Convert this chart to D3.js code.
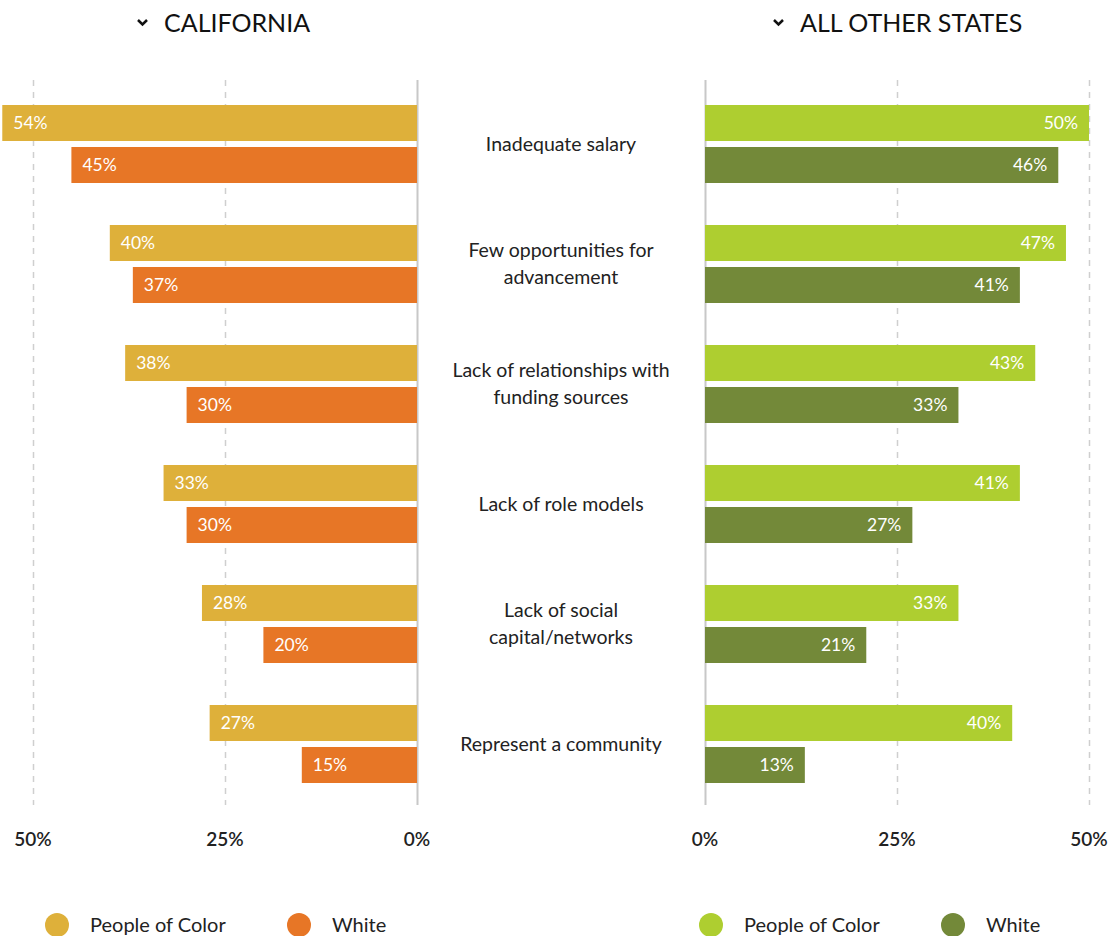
<!DOCTYPE html>
<html>
<head>
<meta charset="utf-8">
<script src="https://d3js.org/d3.v7.min.js"></script>
<style>
  body { margin: 0; background: #fff; }
  svg { display: block; font-family: Lato, "Open Sans", sans-serif; }
  .title { font-size: 25px; fill: #111; }
  .cat { font-size: 19.5px; fill: #222; }
  .val { font-size: 17.5px; fill: #fff; }
  .tick { font-size: 19px; font-weight: 600; fill: #222; }
  .legend text { font-size: 20px; fill: #222; }
</style>
</head>
<body>
<svg id="chart"></svg>
<script>
var categories = [
  ["Inadequate salary"],
  ["Few opportunities for", "advancement"],
  ["Lack of relationships with", "funding sources"],
  ["Lack of role models"],
  ["Lack of social", "capital/networks"],
  ["Represent a community"]
];
var caPeople = [54, 40, 38, 33, 28, 27];
var caWhite = [45, 37, 30, 30, 20, 15];
var otherPeople = [50, 47, 43, 41, 33, 40];
var otherWhite = [46, 41, 33, 27, 21, 13];
var tickValues = [0, 25, 50];

var screen = {width:1113, height:936}

var svg = d3.select("#chart")
  .attr("width", screen.width)
  .attr("height", screen.height)

var catKeys = categories.map(function(c) { return c.join(" "); })

var yScale = d3.scaleBand()
  .domain(catKeys)
  .range([105, 825])
  .paddingInner(0)

var subScale = d3.scaleBand()
  .domain(["people", "white"])
  .range([0, 78])
  .paddingInner(1/7)

var xLeft = d3.scaleLinear().domain([0, 50]).range([417, 33])
var xRight = d3.scaleLinear().domain([0, 50]).range([705, 1089])

var drawPanel = function(opts)
{
  var x = opts.scale
  var g = svg.append("g")

  // grid lines
  g.selectAll("line.grid")
    .data(tickValues)
    .enter()
    .append("line")
    .attr("x1", function(d) { return Math.round(x(d)) + 0.5; })
    .attr("x2", function(d) { return Math.round(x(d)) + 0.5; })
    .attr("y1", 80)
    .attr("y2", 805)
    .attr("stroke", function(d) { return d == 0 ? "#c8c8c8" : "#cfcfcf"; })
    .attr("stroke-width", function(d) { return d == 0 ? 2 : 1.5; })
    .attr("stroke-dasharray", function(d) { return d == 0 ? null : "6,6"; })

  var rows = catKeys.map(function(k, i) {
    return {key:k, people:opts.people[i], white:opts.white[i]};
  })

  var series = [
    {name:"people", color:opts.colors[0]},
    {name:"white", color:opts.colors[1]}
  ]

  series.forEach(function(s)
  {
    var bars = g.selectAll("g." + s.name)
      .data(rows)
      .enter()
      .append("g")
      .attr("class", s.name)

    bars.append("rect")
      .attr("x", function(d) { return Math.min(x(0), x(d[s.name])); })
      .attr("y", function(d) { return yScale(d.key) + subScale(s.name); })
      .attr("width", function(d) { return Math.abs(x(d[s.name]) - x(0)); })
      .attr("height", subScale.bandwidth())
      .attr("fill", s.color)

    bars.append("text")
      .text(function(d) { return d[s.name] + "%"; })
      .attr("class", "val")
      .attr("text-anchor", opts.side == "left" ? "start" : "end")
      .attr("x", function(d) {
        return opts.side == "left" ? x(d[s.name]) + 11 : x(d[s.name]) - 11;
      })
      .attr("y", function(d) { return yScale(d.key) + subScale(s.name) + subScale.bandwidth()/2; })
      .attr("dy", "0.35em")
  })

  // tick labels
  g.selectAll("text.tick")
    .data(tickValues)
    .enter()
    .append("text")
    .attr("class", "tick")
    .attr("text-anchor", "middle")
    .attr("x", function(d) { return x(d); })
    .attr("y", 846)
    .text(function(d) { return d + "%"; })

  // title with chevron
  var t = svg.append("g")
    .attr("transform", "translate(" + opts.titleX + ",23)")
  t.append("path")
    .attr("d", "M-26,-3 L-21.5,1.5 L-17,-3")
    .attr("fill", "none")
    .attr("stroke", "#111")
    .attr("stroke-width", 2.5)
  t.append("text")
    .attr("class", "title")
    .attr("x", 0)
    .attr("dy", "0.36em")
    .text(opts.title)

  // legend
  var legend = svg.append("g")
    .attr("class", "legend")
    .attr("transform", "translate(" + opts.legendX + ",925)")
  var entries = legend.selectAll("g")
    .data([
      {name:"People of Color", color:opts.colors[0], dx:0},
      {name:"White", color:opts.colors[1], dx:242}
    ])
    .enter()
    .append("g")
    .attr("transform", function(d) { return "translate(" + d.dx + ",0)"; })
  entries.append("circle")
    .attr("r", 12)
    .attr("fill", function(d) { return d.color; })
  entries.append("text")
    .attr("x", 33)
    .attr("dy", "0.35em")
    .text(function(d) { return d.name; })
}

drawPanel({
  scale:xLeft, side:"left", people:caPeople, white:caWhite,
  colors:["#deb03a", "#e77626"], title:"CALIFORNIA", titleX:164, legendX:57
})
drawPanel({
  scale:xRight, side:"right", people:otherPeople, white:otherWhite,
  colors:["#aece30", "#738939"], title:"ALL OTHER STATES", titleX:800, legendX:711
})

// category labels in the middle
var labels = svg.append("g")
labels.selectAll("text")
  .data(categories)
  .enter()
  .append("text")
  .attr("class", "cat")
  .attr("text-anchor", "middle")
  .attr("x", 561)
  .attr("y", function(d, i) {
    return yScale(catKeys[i]) + 39 - (d.length - 1) * 13.5;
  })
  .each(function(d) {
    var el = d3.select(this)
    d.forEach(function(line, j) {
      el.append("tspan")
        .attr("x", 561)
        .attr("dy", j == 0 ? "0.35em" : "27px")
        .text(line)
    })
  })
</script>
</body>
</html>
